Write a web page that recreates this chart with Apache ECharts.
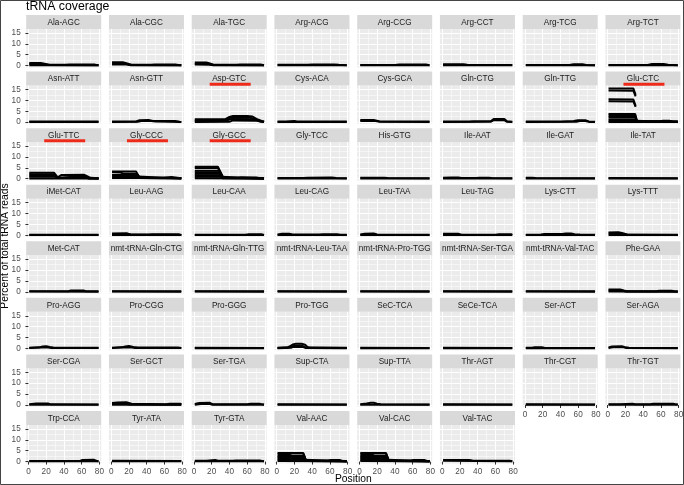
<!DOCTYPE html>
<html>
<head>
<meta charset="utf-8">
<script src="https://cdn.jsdelivr.net/npm/echarts@6/dist/echarts.min.js"></script>
<style>
  html, body { margin: 0; padding: 0; background: #fff; }
  #chart { width: 684px; height: 485px; }
</style>
</head>
<body>
<div id="chart"></div>
<script>
// facet labels, in panel order
const trnaNames = [
  'Ala-AGC', 'Ala-CGC', 'Ala-TGC', 'Arg-ACG', 'Arg-CCG', 'Arg-CCT', 'Arg-TCG', 'Arg-TCT',
  'Asn-ATT', 'Asn-GTT', 'Asp-GTC', 'Cys-ACA', 'Cys-GCA', 'Gln-CTG', 'Gln-TTG', 'Glu-CTC',
  'Glu-TTC', 'Gly-CCC', 'Gly-GCC', 'Gly-TCC', 'His-GTG', 'Ile-AAT', 'Ile-GAT', 'Ile-TAT',
  'iMet-CAT', 'Leu-AAG', 'Leu-CAA', 'Leu-CAG', 'Leu-TAA', 'Leu-TAG', 'Lys-CTT', 'Lys-TTT',
  'Met-CAT', 'nmt-tRNA-Gln-CTG', 'nmt-tRNA-Gln-TTG', 'nmt-tRNA-Leu-TAA', 'nmt-tRNA-Pro-TGG', 'nmt-tRNA-Ser-TGA', 'nmt-tRNA-Val-TAC', 'Phe-GAA',
  'Pro-AGG', 'Pro-CGG', 'Pro-GGG', 'Pro-TGG', 'SeC-TCA', 'SeCe-TCA', 'Ser-ACT', 'Ser-AGA',
  'Ser-CGA', 'Ser-GCT', 'Ser-TGA', 'Sup-CTA', 'Sup-TTA', 'Thr-AGT', 'Thr-CGT', 'Thr-TGT',
  'Trp-CCA', 'Tyr-ATA', 'Tyr-GTA', 'Val-AAC', 'Val-CAC', 'Val-TAC'
]
// panels with the red underline under the strip label
const highlighted = ['Asp-GTC', 'Glu-CTC', 'Glu-TTC', 'Gly-CCC', 'Gly-GCC']

const xTicks = [0, 20, 40, 60, 80]
const yTicks = [0, 5, 10, 15]

// common low-level traces: [position, percent]
const flat = [[1, 0.3], [79, 0.25]]
const base = [[1, 0.12], [79, 0.1]]

// coverage traces per tRNA (one array of lines per panel)
const coverage = [
  // Ala-AGC
  [[[1,1.2],[14,1.2],[18,0.9],[24,0.35],[42,0.35],[46,0.45],[75,0.45],[79,0.15]],
   [[1,0.7],[16,0.7],[22,0.25],[79,0.2]], base],
  // Ala-CGC
  [[[1,1.5],[13,1.5],[17,1.1],[23,0.35],[45,0.35],[49,0.5],[72,0.5],[76,0.3],[79,0.15]],
   [[1,1.0],[15,0.95],[21,0.3],[79,0.2]], [[1,0.5],[18,0.45],[22,0.15],[79,0.1]]],
  // Ala-TGC
  [[[1,1.4],[14,1.4],[18,1.0],[23,0.35],[48,0.35],[52,0.5],[75,0.5],[79,0.15]],
   [[1,0.9],[16,0.85],[21,0.25],[79,0.2]], [[1,0.45],[18,0.4],[22,0.12],[79,0.1]]],
  // Arg-ACG
  [[[1,0.35],[35,0.35],[40,0.5],[65,0.5],[70,0.35],[79,0.2]], base],
  // Arg-CCG
  [[[1,0.3],[40,0.3],[45,0.45],[75,0.45],[79,0.2]], base],
  // Arg-CCT
  [[[1,0.65],[24,0.6],[28,0.35],[79,0.3]], base],
  // Arg-TCG
  [[[1,0.3],[50,0.3],[55,0.6],[65,0.6],[69,0.3],[79,0.2]], base],
  // Arg-TCT
  [[[1,0.3],[45,0.3],[50,0.7],[63,0.75],[68,0.35],[79,0.2]], base],
  // Asn-ATT
  [flat, base],
  // Asn-GTT
  [[[1,0.3],[28,0.3],[32,0.9],[42,1.0],[47,0.5],[72,0.55],[77,0.2],[79,0.1]],
   [[1,0.12],[30,0.15],[34,0.5],[45,0.55],[50,0.25],[79,0.1]]],
  // Asp-GTC
  [[[1,1.3],[35,1.3],[40,2.4],[44,2.8],[60,2.8],[66,2.6],[72,1.2],[77,0.4],[79,0.2]],
   [[1,0.9],[35,0.9],[41,2.0],[65,2.0],[72,0.8],[79,0.2]],
   [[1,0.5],[35,0.5],[42,1.4],[68,1.3],[74,0.4],[79,0.15]],
   [[1,0.12],[40,0.15],[44,0.8],[70,0.7],[76,0.15],[79,0.1]]],
  // Cys-ACA
  [[[1,0.3],[10,0.35],[12,0.5],[20,0.5],[23,0.3],[79,0.25]], base],
  // Cys-GCA
  [[[1,1.0],[16,1.0],[22,0.4],[26,0.3],[79,0.25]], [[1,0.55],[18,0.5],[23,0.15],[79,0.1]]],
  // Gln-CTG
  [[[1,0.3],[30,0.3],[35,0.45],[55,0.5],[58,1.4],[70,1.5],[73,0.4],[79,0.2]],
   [[1,0.12],[55,0.2],[58,0.9],[70,0.9],[73,0.15],[79,0.1]]],
  // Gln-TTG
  [[[1,0.3],[40,0.35],[55,0.5],[60,0.9],[68,0.9],[72,0.35],[79,0.2]],
   [[1,0.12],[58,0.2],[62,0.5],[68,0.5],[72,0.12],[79,0.1]]],
  // Glu-CTC
  [[[1,15.5],[29,15.4],[30.5,14.8],[31.5,12.5]],
   [[1,14.5],[29,14.4],[30.5,13.9],[31.5,11.8]],
   [[1,10.5],[29,10.4],[30.5,9.9],[31.5,7.5]],
   [[1,9.6],[29,9.5],[30.5,9.0],[31.5,7.0]],
   [[1,3.8],[31,3.8],[33,0.5],[79,0.3]],
   [[1,3.1],[31,3.1],[33,0.4],[58,0.35],[62,0.6],[70,0.6],[73,0.3],[79,0.2]],
   [[1,2.4],[31,2.4],[33,0.3],[79,0.2]],
   [[1,1.3],[31,1.3],[33,0.25],[79,0.15]],
   [[1,0.7],[31,0.7],[33,0.15],[79,0.1]],
   base],
  // Glu-TTC
  [[[1,2.7],[29,2.7],[31,2.2],[33,0.6],[35,0.6],[37,1.7],[63,1.8],[66,1.2],[70,0.4],[79,0.2]],
   [[1,2.1],[29,2.1],[32,0.5],[36,0.5],[38,1.3],[63,1.3],[68,0.3],[79,0.2]],
   [[1,1.5],[30,1.5],[32,0.4],[37,0.4],[39,0.9],[64,0.9],[68,0.2],[79,0.15]],
   [[1,0.9],[30,0.9],[32,0.3],[38,0.3],[40,0.5],[64,0.5],[68,0.15],[79,0.1]],
   base],
  // Gly-CCC
  [[[1,3.3],[28,3.3],[30,2.8],[32,0.5],[79,0.3]],
   [[1,3.0],[10,2.9],[14,2.3],[29,2.3],[32,0.4],[58,0.4],[60,0.8],[68,0.8],[70,0.3],[79,0.2]],
   [[1,1.7],[30,1.7],[32,0.3],[79,0.2]],
   [[1,1.0],[30,1.0],[32,0.2],[79,0.15]],
   [[1,0.35],[31,0.35],[33,0.12],[79,0.1]]],
  // Gly-GCC
  [[[1,5.5],[27,5.5],[29,4.9],[33,0.6],[79,0.3]],
   [[1,4.9],[27,4.9],[29,4.4],[33,0.5],[50,0.35],[53,0.6],[70,0.6],[73,0.3],[79,0.2]],
   [[1,3.7],[28,3.7],[32,0.45],[79,0.25]],
   [[1,3.0],[29,3.0],[32,0.4],[79,0.2]],
   [[1,2.3],[29,2.3],[32,0.3],[79,0.2]],
   [[1,1.6],[30,1.6],[32,0.25],[79,0.15]],
   [[1,0.9],[30,0.9],[32,0.2],[79,0.12]],
   [[1,0.25],[79,0.1]]],
  // Gly-TCC
  [[[1,0.35],[30,0.35],[35,0.5],[62,0.6],[67,0.35],[79,0.2]], base],
  // His-GTG
  [[[1,0.45],[28,0.45],[32,0.3],[79,0.25]], base],
  // Ile-AAT
  [[[1,0.5],[10,0.6],[18,0.55],[22,0.3],[38,0.3],[42,0.45],[52,0.45],[56,0.3],[79,0.2]], base],
  // Ile-GAT
  [[[1,0.5],[8,0.5],[12,0.3],[79,0.25]], base],
  // Ile-TAT
  [flat, base],
  // iMet-CAT
  [flat, base],
  // Leu-AAG
  [[[1,0.85],[18,0.9],[22,0.35],[42,0.35],[46,0.5],[76,0.5],[79,0.2]],
   [[1,0.5],[20,0.45],[23,0.2],[79,0.15]], base],
  // Leu-CAA
  [[[1,0.3],[58,0.3],[62,0.5],[76,0.5],[79,0.2]], base],
  // Leu-CAG
  [[[1,0.35],[6,0.7],[14,0.75],[18,0.35],[48,0.35],[52,0.5],[68,0.5],[72,0.3],[79,0.2]], base],
  // Leu-TAA
  [[[1,0.35],[6,0.75],[16,0.8],[20,0.35],[79,0.25]], base],
  // Leu-TAG
  [[[1,0.7],[18,0.7],[22,0.3],[60,0.3],[64,0.45],[78,0.45],[79,0.2]], base],
  // Lys-CTT
  [[[1,0.3],[18,0.35],[22,0.6],[42,0.65],[46,0.8],[52,0.8],[56,0.5],[62,0.35],[79,0.2]], base],
  // Lys-TTT
  [[[1,1.3],[12,1.35],[16,1.1],[22,0.4],[79,0.25]],
   [[1,0.8],[14,0.8],[20,0.2],[79,0.1]], base],
  // Met-CAT
  [[[1,0.3],[45,0.3],[48,0.6],[62,0.6],[65,0.3],[79,0.25]], base],
  // nmt-tRNA-Gln-CTG
  [flat, base],
  // nmt-tRNA-Gln-TTG
  [flat, base],
  // nmt-tRNA-Leu-TAA
  [flat, base],
  // nmt-tRNA-Pro-TGG
  [flat, base],
  // nmt-tRNA-Ser-TGA
  [flat, base],
  // nmt-tRNA-Val-TAC
  [flat, base],
  // Phe-GAA
  [[[1,1.1],[14,1.1],[18,0.6],[22,0.3],[55,0.3],[58,0.5],[72,0.5],[75,0.3],[79,0.2]],
   [[1,0.6],[16,0.6],[20,0.2],[79,0.15]], base],
  // Pro-AGG
  [[[1,0.35],[12,0.5],[16,0.9],[20,1.0],[24,0.7],[28,0.45],[79,0.35]],
   [[1,0.15],[16,0.4],[22,0.4],[26,0.2],[79,0.15]]],
  // Pro-CGG
  [[[1,0.35],[12,0.5],[16,0.9],[20,1.1],[25,0.7],[30,0.45],[75,0.4],[79,0.2]],
   [[1,0.15],[16,0.5],[23,0.4],[27,0.2],[79,0.15]]],
  // Pro-GGG
  [flat, base],
  // Pro-TGG
  [[[1,0.3],[12,0.4],[15,1.0],[18,1.8],[22,2.2],[28,2.2],[32,1.7],[35,0.6],[38,0.35],[79,0.3]],
   [[1,0.15],[15,0.6],[18,1.3],[28,1.4],[33,0.4],[79,0.15]],
   [[1,0.1],[16,0.3],[19,0.7],[29,0.7],[33,0.2],[79,0.1]]],
  // SeC-TCA
  [flat, base],
  // SeCe-TCA
  [flat, base],
  // Ser-ACT
  [[[1,0.3],[8,0.35],[11,0.5],[19,0.5],[22,0.3],[79,0.25]], base],
  // Ser-AGA
  [[[1,0.4],[5,0.9],[16,1.0],[20,0.5],[24,0.3],[79,0.25]],
   [[1,0.15],[6,0.5],[18,0.5],[21,0.2],[79,0.1]]],
  // Ser-CGA
  [[[1,0.35],[9,0.7],[22,0.75],[25,0.3],[79,0.25]], base],
  // Ser-GCT
  [[[1,0.9],[7,1.2],[17,1.3],[19,0.7],[23,0.6],[25,0.3],[62,0.3],[66,0.55],[78,0.55],[79,0.2]],
   [[1,0.5],[18,0.5],[21,0.2],[79,0.15]], base],
  // Ser-TGA
  [[[1,0.5],[6,0.9],[18,1.0],[21,0.4],[60,0.35],[64,0.55],[74,0.55],[77,0.3],[79,0.2]],
   [[1,0.15],[8,0.5],[18,0.5],[21,0.15],[79,0.1]]],
  // Sup-CTA
  [flat, base],
  // Sup-TTA
  [[[1,0.4],[8,0.7],[13,1.0],[16,1.0],[20,0.6],[24,0.35],[79,0.25]], base],
  // Thr-AGT
  [flat, base],
  // Thr-CGT
  [flat, base],
  // Thr-TGT
  [[[1,0.3],[14,0.35],[16,0.6],[28,0.6],[31,0.35],[48,0.35],[51,0.6],[74,0.6],[77,0.3],[79,0.2]], base],
  // Trp-CCA
  [[[1,0.3],[58,0.3],[61,0.75],[74,0.8],[77,0.3],[79,0.2]], base],
  // Tyr-ATA
  [[[1,0.35],[79,0.3]], base],
  // Tyr-GTA
  [[[1,0.35],[14,0.4],[16,0.75],[24,0.75],[27,0.4],[44,0.4],[47,0.55],[74,0.55],[77,0.3],[79,0.2]], base],
  // Val-AAC
  [[[1,3.95],[30,3.95],[32,3.6],[33,0.5],[79,0.3]],
   [[1,3.35],[14,3.3],[17,3.7],[30,3.7],[33,0.45],[58,0.4],[61,0.7],[71,0.7],[74,0.3],[79,0.2]],
   [[1,2.6],[31,2.6],[33,0.35],[79,0.2]],
   [[1,2.0],[31,2.0],[33,0.3],[79,0.2]],
   [[1,1.4],[31,1.4],[33,0.25],[79,0.15]],
   [[1,0.8],[31,0.8],[33,0.2],[79,0.12]],
   [[1,0.25],[79,0.1]]],
  // Val-CAC
  [[[1,3.95],[30,3.95],[32,3.6],[33,0.5],[79,0.3]],
   [[1,3.35],[14,3.3],[17,3.7],[30,3.7],[33,0.45],[58,0.4],[61,0.7],[73,0.7],[76,0.3],[79,0.2]],
   [[1,2.6],[31,2.6],[33,0.35],[79,0.2]],
   [[1,2.0],[31,2.0],[33,0.3],[79,0.2]],
   [[1,1.4],[31,1.4],[33,0.25],[79,0.15]],
   [[1,0.8],[31,0.8],[33,0.2],[79,0.12]],
   [[1,0.25],[79,0.1]]],
  // Val-TAC
  [[[1,0.75],[30,0.75],[34,0.45],[76,0.4],[79,0.2]], [[1,0.35],[79,0.15]]]
]

// facet layout (pixels)
const COLS = 8
const X0 = 26.2, Y0 = 15
const COL_STEP = 82.75, ROW_STEP = 56.57
const PANEL_W = 75, STRIP_H = 14, PLOT_H = 38.4
const FONT = '"Liberation Sans", Arial, sans-serif'

const grids = [], xAxes = [], yAxes = [], series = [], graphics = []
const n = trnaNames.length

trnaNames.forEach((name, i) => {
  const col = i % COLS
  const row = Math.floor(i / COLS)
  const left = X0 + col * COL_STEP
  const top = Y0 + row * ROW_STEP
  const showX = i + COLS >= n
  const showY = col === 0

  grids.push({
    left: left, top: top + STRIP_H, width: PANEL_W, height: PLOT_H,
    show: true, backgroundColor: '#EBEBEB', borderWidth: 0,
    containLabel: false, outerBoundsMode: 'none'
  })

  xAxes.push({
    gridIndex: i, type: 'value', min: -2.5, max: 82,
    axisLine: { show: false },
    axisTick: { show: showX, length: 3, customValues: xTicks, lineStyle: { color: '#333333', width: 1 } },
    axisLabel: { show: showX, customValues: xTicks, margin: 4, fontSize: 8.2, color: '#4D4D4D', fontFamily: FONT },
    splitLine: { show: true, lineStyle: { color: '#ffffff', width: 1 } },
    minorTick: { show: false, splitNumber: 2 },
    minorSplitLine: { show: true, lineStyle: { color: '#ffffff', width: 0.5 } }
  })

  yAxes.push({
    gridIndex: i, type: 'value', min: -0.83, max: 16.8, splitNumber: 3,
    axisLine: { show: false },
    axisTick: { show: showY, length: 3, customValues: yTicks, lineStyle: { color: '#333333', width: 1 } },
    axisLabel: { show: showY, customValues: yTicks, margin: 5.5, fontSize: 8.2, color: '#4D4D4D', fontFamily: FONT },
    splitLine: { show: true, lineStyle: { color: '#ffffff', width: 1 } },
    minorTick: { show: false, splitNumber: 2 },
    minorSplitLine: { show: true, lineStyle: { color: '#ffffff', width: 0.5 } }
  })

  coverage[i].forEach(line => {
    series.push({
      type: 'line', xAxisIndex: i, yAxisIndex: i, data: line,
      symbol: 'none', showSymbol: false, silent: true, animation: false,
      lineStyle: { color: '#000000', width: 2 }
    })
  })

  // strip
  graphics.push({
    type: 'rect', silent: true,
    shape: { x: left, y: top, width: PANEL_W, height: STRIP_H },
    style: { fill: '#D9D9D9' }
  })
  graphics.push({
    type: 'text', silent: true, x: left + PANEL_W / 2, y: top + STRIP_H / 2 + 0.5,
    style: { text: name, align: 'center', verticalAlign: 'middle', fontSize: 8.2, fontFamily: FONT, fill: '#1A1A1A' }
  })
  if (highlighted.includes(name)) {
    const cx = left + PANEL_W / 2 + 1
    graphics.push({
      type: 'line', silent: true, z: 10,
      shape: { x1: cx - 20.5, y1: top + STRIP_H - 1.3, x2: cx + 20.5, y2: top + STRIP_H - 1.3 },
      style: { stroke: '#EE2A1B', lineWidth: 3 }
    })
  }
})

// titles
graphics.push({
  type: 'text', silent: true, x: 26, y: 7,
  style: { text: 'tRNA coverage', align: 'left', verticalAlign: 'middle', fontSize: 12.3, fontFamily: FONT, fill: '#000000' }
})
graphics.push({
  type: 'text', silent: true, x: 353.3, y: 479.5,
  style: { text: 'Position', align: 'center', verticalAlign: 'middle', fontSize: 10.3, fontFamily: FONT, fill: '#000000' }
})
graphics.push({
  type: 'text', silent: true, x: 4.8, y: 246, rotation: Math.PI / 2,
  style: { text: 'Percent of total tRNA reads', align: 'center', verticalAlign: 'middle', fontSize: 10.3, fontFamily: FONT, fill: '#000000' }
})
// outer frame of the picture
graphics.push({
  type: 'rect', silent: true, z: 20,
  shape: { x: 0.5, y: 0.5, width: 683, height: 484 },
  style: { fill: null, stroke: '#444444', lineWidth: 1 }
})

const chart = echarts.init(document.getElementById('chart'), null, { renderer: 'canvas' })
chart.setOption({
  animation: false,
  backgroundColor: '#ffffff',
  grid: grids,
  xAxis: xAxes,
  yAxis: yAxes,
  series: series,
  graphic: graphics
})
</script>
</body>
</html>
